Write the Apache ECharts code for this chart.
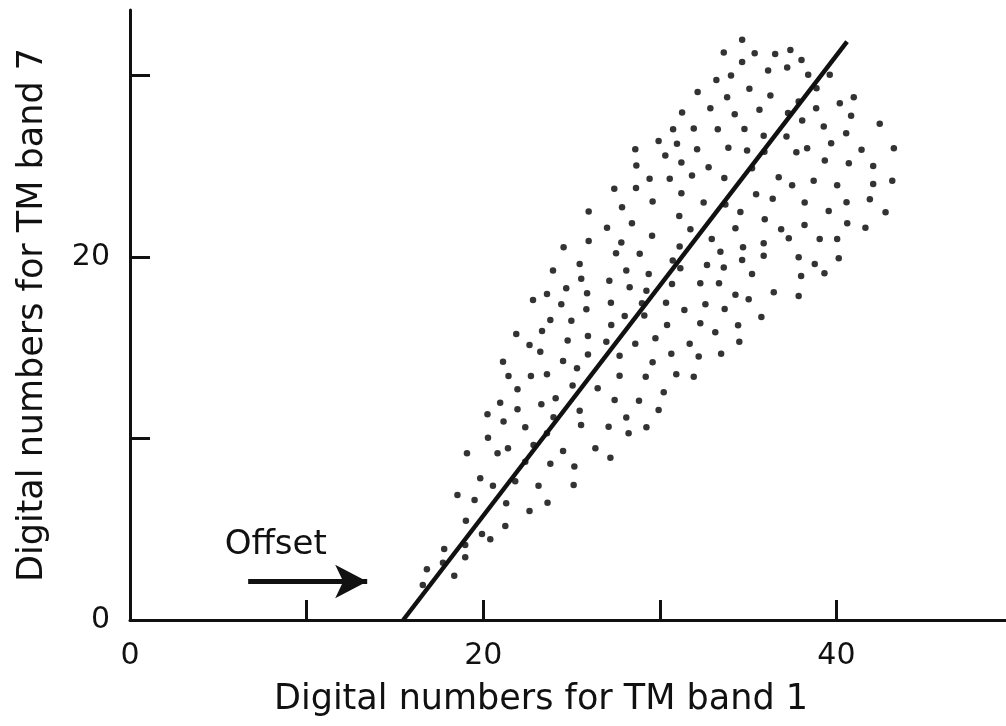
<!DOCTYPE html>
<html>
<head>
<meta charset="utf-8">
<script src="https://cdn.jsdelivr.net/npm/echarts@6/dist/echarts.min.js"></script>
<style>
  html, body { margin: 0; padding: 0; background: #fff; }
  #chart { width: 1006px; height: 726px; }
</style>
</head>
<body>
<div id="chart"></div>
<script>
// ---- data (digital numbers) ----
const band1 = [
  34.66,33.62,35.37,36.53,37.39,38.02,34.66,36.13,37.21,38.40,39.62,33.20,34.03,35.07,36.26,38.87,32.14,33.81,37.86,40.19,
  40.98,31.26,32.86,34.24,35.64,37.26,38.85,40.83,38.06,30.75,31.92,33.28,34.79,35.88,37.17,39.28,40.55,42.45,29.93,30.97,
  32.11,33.88,34.94,35.92,28.61,30.31,37.73,38.34,39.70,41.42,43.25,28.67,31.22,32.76,35.22,39.34,40.70,42.08,29.42,30.56,
  31.82,33.65,36.73,37.49,38.71,40.04,42.08,43.16,27.42,28.65,31.22,35.45,36.39,38.20,40.57,41.89,27.86,29.59,32.48,33.71,
  34.56,39.56,42.78,31.10,35.94,28.42,27.01,31.73,34.28,38.19,40.61,41.64,36.87,25.97,
  25.97,27.82,29.56,31.12,32.94,33.43,34.71,35.88,37.30,39.05,40.04,24.55,27.52,28.86,30.73,31.16,32.67,33.62,34.66,35.88,
  37.86,38.77,40.13,23.95,25.46,25.55,28.10,29.37,27.14,28.29,29.24,30.69,32.29,33.35,35.22,38.00,39.32,22.82,23.61,24.70,
  25.88,24.42,25.84,27.23,28.99,30.35,31.39,32.58,33.67,34.28,35.03,36.45,37.86,23.80,24.99,27.25,28.01,29.12,30.41,32.29,
  33.14,34.43,35.75,23.33,25.93,24.78,26.97,28.61,29.75,31.69,34.50,22.62,23.23,24.52,25.93,27.72,29.59,30.65,32.20,33.47,
  25.31,
  21.87,21.12,21.43,22.70,23.61,27.72,29.20,30.93,31.92,21.94,25.06,26.48,20.96,21.94,23.29,24.10,25.46,27.44,28.82,30.22,
  29.93,20.24,21.15,22.38,23.98,25.54,27.10,28.10,28.23,29.24,20.27,23.61,21.40,20.81,22.85,24.52,26.35,27.20,19.08,22.38,
  23.80,25.16,19.83,20.55,21.81,23.13,25.12,
  18.54,19.51,21.30,22.62,23.64,19.02,21.25,19.93,20.40,17.79,18.98,18.98,17.72,16.81,18.36,16.58
];
const band7 = [
  31.96,31.26,31.22,31.18,31.40,30.85,30.73,30.27,30.43,30.03,30.03,29.75,29.99,29.26,28.89,29.29,29.09,28.80,28.56,28.47,
  28.80,27.95,28.19,27.86,28.10,27.92,28.19,27.77,27.51,27.03,27.07,27.03,27.05,26.68,26.63,27.18,26.81,27.33,26.39,26.23,
  25.93,26.01,25.86,25.79,25.93,25.58,25.77,25.99,26.26,25.90,25.99,25.03,25.20,24.94,24.89,25.31,25.16,25.01,24.30,24.30,
  24.48,24.34,24.39,23.95,24.20,23.95,24.02,24.19,23.76,23.80,23.51,23.45,23.20,22.99,23.01,23.18,22.74,23.05,22.99,22.88,
  22.48,22.53,22.46,22.26,22.08,21.86,21.61,21.53,21.58,21.76,21.86,21.61,21.53,22.50,
  20.88,20.79,21.16,20.57,20.98,20.29,20.53,20.75,21.03,20.99,20.99,20.53,20.20,20.17,19.80,19.38,19.56,19.41,19.83,20.06,
  19.98,19.61,19.93,19.25,19.61,18.80,19.25,19.06,18.69,18.33,18.13,18.51,18.55,18.55,19.06,18.95,19.10,17.63,17.96,18.28,
  18.00,17.39,17.12,17.48,17.45,17.48,17.08,17.39,17.13,17.91,17.67,18.05,17.85,16.53,16.49,16.25,16.75,16.77,16.25,16.35,
  15.85,16.24,16.69,15.92,15.65,15.39,15.33,15.21,15.52,15.22,15.32,15.15,14.78,14.27,14.62,14.55,14.20,14.66,14.51,14.67,
  13.87,
  15.76,14.23,13.44,13.44,13.54,13.46,13.40,13.54,13.40,12.71,12.91,12.77,11.97,11.61,11.88,12.21,11.53,12.12,12.08,12.55,
  11.57,11.33,10.93,10.62,11.17,10.74,10.65,11.15,10.29,10.62,10.04,10.29,9.46,9.18,9.64,9.31,9.46,8.94,9.18,8.72,
  8.60,8.45,7.81,7.40,7.64,7.40,7.44,
  6.89,6.61,6.43,6.01,6.46,5.47,5.18,4.74,4.45,3.91,4.13,3.45,3.16,2.79,2.44,1.93
];
// fitted line (band1, band7)
const lineBand1 = [15.47, 40.6];
const lineBand7 = [0, 31.86];
// offset arrow and label
const arrowBand1 = [6.69, 13.43];
const arrowBand7 = [2.12, 2.12];
const offsetLabelAt = [8.25, 4.13];
const offsetText = 'Offset';
// axes
const xTickValues = [10, 20, 30, 40];
const xLabelValues = [0, 20, 40];
const yTickValues = [10, 20, 30];
const yLabelValues = [0, 20];
const xName = 'Digital numbers for TM band 1';
const yName = 'Digital numbers for TM band 7';
const xMax = 49.6;
const yMax = 33.6;

const FONT = 'DejaVu Sans';
const INK = '#111';

const dots = band1.map((v, i) => [v, band7[i]]);
const linePts = lineBand1.map((v, i) => [v, lineBand7[i]]);

const chart = echarts.init(document.getElementById('chart'), null, { renderer: 'canvas' });
chart.setOption({
  animation: false,
  backgroundColor: '#fff',
  grid: { left: 130, right: 0, top: 10, bottom: 106, containLabel: false },
  xAxis: {
    type: 'value', min: 0, max: xMax, interval: 10,
    name: xName, nameLocation: 'middle', nameGap: 62,
    nameTextStyle: { fontFamily: FONT, fontSize: 35, color: INK, padding: [0, 54, 0, 0] },
    axisLine: { show: true, onZero: false, lineStyle: { color: INK, width: 3 } },
    axisTick: { show: true, inside: true, length: 20, customValues: xTickValues, lineStyle: { color: INK, width: 3 } },
    axisLabel: { show: true, customValues: xLabelValues, margin: 21, fontFamily: FONT, fontSize: 30, color: INK },
    splitLine: { show: false }
  },
  yAxis: {
    type: 'value', min: 0, max: yMax, interval: 10,
    name: yName, nameLocation: 'middle', nameGap: 80,
    nameTextStyle: { fontFamily: FONT, fontSize: 35, color: INK },
    axisLine: { show: true, onZero: false, lineStyle: { color: INK, width: 3 } },
    axisTick: { show: true, inside: true, length: 20, customValues: yTickValues, lineStyle: { color: INK, width: 3 } },
    axisLabel: { show: true, customValues: yLabelValues, margin: 20, fontFamily: FONT, fontSize: 30, color: INK },
    splitLine: { show: false }
  },
  series: [
    {
      type: 'scatter',
      data: dots,
      symbol: 'circle',
      symbolSize: 6.5,
      itemStyle: { color: '#000' },
      silent: true,
      markLine: {
        silent: true,
        animation: false,
        label: { show: false },
        lineStyle: { color: INK, width: 5, type: 'solid' },
        symbol: ['none', 'arrow'],
        data: [[
          { coord: [arrowBand1[0], arrowBand7[0]], symbol: 'none' },
          { coord: [arrowBand1[1], arrowBand7[1]], symbol: 'arrow', symbolSize: [25, 32] }
        ]]
      },
      markPoint: {
        silent: true,
        animation: false,
        symbol: 'circle',
        symbolSize: 0,
        itemStyle: { color: 'transparent' },
        label: { show: true, position: 'inside', formatter: offsetText, fontFamily: FONT, fontSize: 34, color: INK },
        data: [{ coord: offsetLabelAt }]
      }
    },
    {
      type: 'line',
      data: linePts,
      showSymbol: false,
      symbol: 'none',
      silent: true,
      lineStyle: { color: INK, width: 4.5 }
    }
  ]
});
</script>
</body>
</html>
